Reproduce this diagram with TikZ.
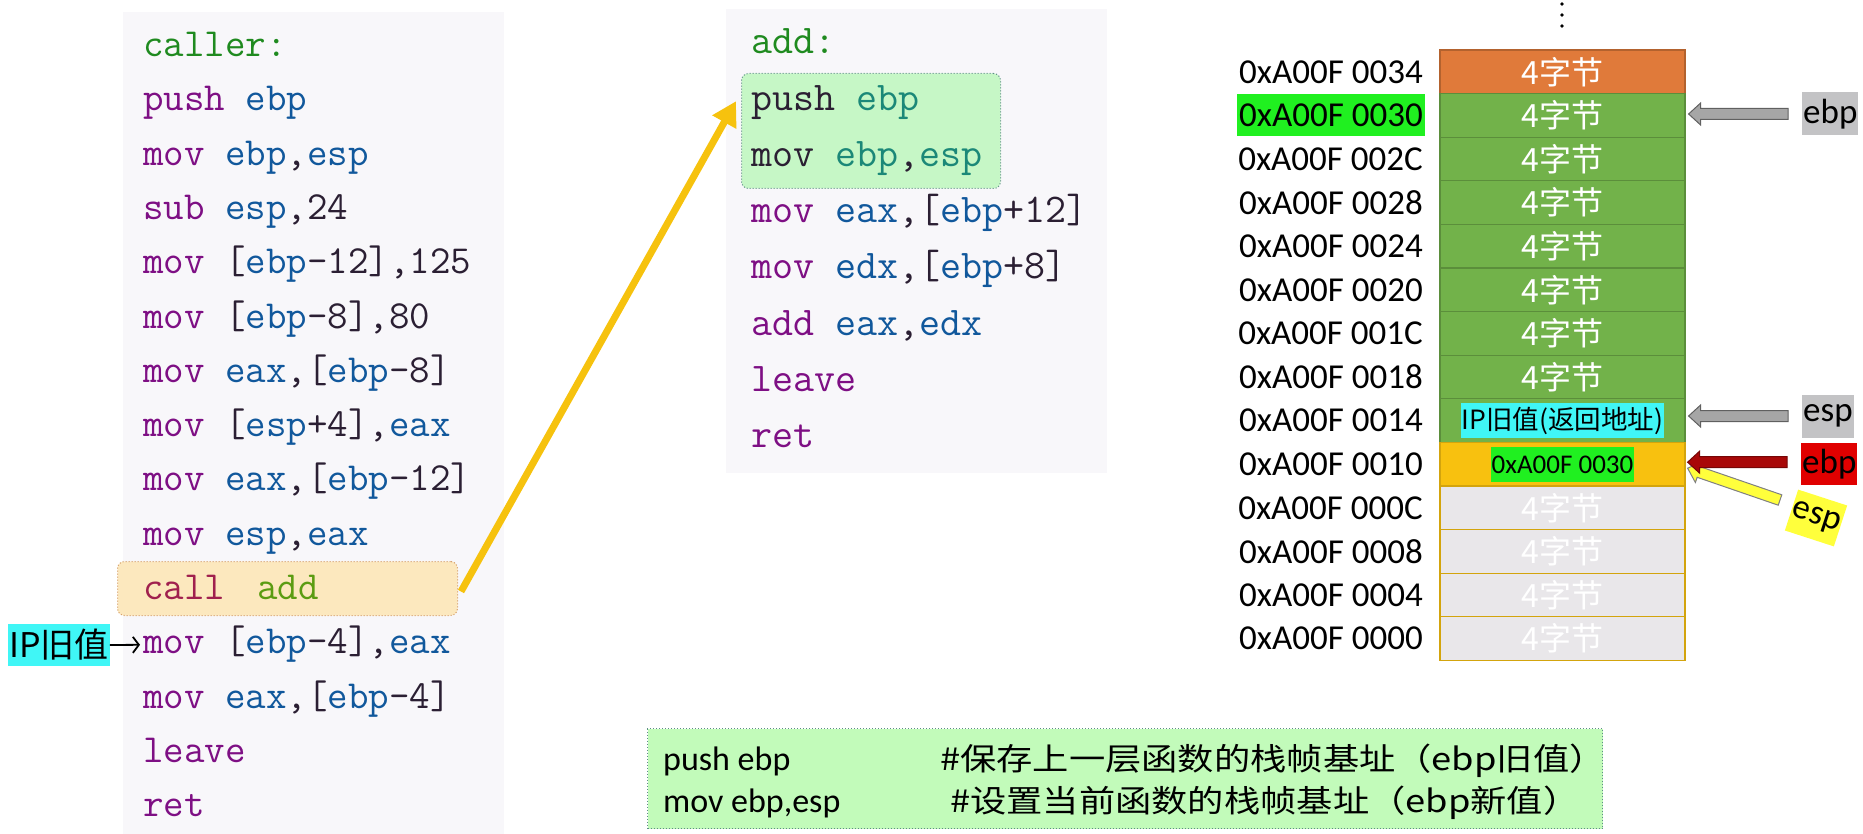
\documentclass[tikz,border=0pt]{standalone}
\usepackage{fontspec}
\usepackage{tikz}
\usepackage{xcolor}
\usetikzlibrary{arrows.meta,calc}
\setmainfont{Carlito}
\newfontfamily\cjk{Noto Sans CJK SC}
\newfontfamily\cjkwide[FakeStretch=1.17]{Noto Sans CJK SC}
\definecolor{panelgray}{HTML}{F8F7FA}
\definecolor{kwpurple}{HTML}{7E0F84}
\definecolor{regblue}{HTML}{11589C}
\definecolor{labgreen}{HTML}{1F8A1F}
\definecolor{callred}{HTML}{A0204E}
\definecolor{addgreen}{HTML}{5B9C12}
\definecolor{regteal}{HTML}{1B8878}
\definecolor{darkink}{HTML}{2B1F33}
\definecolor{callfill}{HTML}{FCE8BE}
\definecolor{callline}{HTML}{D39A62}
\definecolor{hlfill}{HTML}{C6F7C6}
\definecolor{hlline}{HTML}{5E8C86}
\definecolor{notefill}{HTML}{C2FBBA}
\definecolor{cellorange}{HTML}{E07A3A}
\definecolor{cellgreen}{HTML}{72B24A}
\definecolor{cellgold}{HTML}{F8C10F}
\definecolor{cellgray}{HTML}{E9E7EA}
\definecolor{ipcyan}{HTML}{40F6F6}
\definecolor{addrgreen}{HTML}{20F020}
\definecolor{callarrow}{HTML}{F6C20E}
\definecolor{ptrgray}{HTML}{A6A6A6}
\definecolor{labelgray}{HTML}{C3C3C5}
\definecolor{ptrred}{HTML}{A80808}
\definecolor{labelred}{HTML}{E00000}
\definecolor{ptryellow}{HTML}{FFFF3C}
\newcommand{\kw}[1]{\textcolor{kwpurple}{#1}}
\newcommand{\rg}[1]{\textcolor{regblue}{#1}}
\newcommand{\rgt}[1]{\textcolor{regteal}{#1}}
\newcommand{\retbox}{{\fboxsep=1pt\colorbox{ipcyan}{\rule[-8pt]{0pt}{33pt}\textcolor{black}{\fontsize{26.5}{30}\selectfont IP旧值(返回地址)}}}}
\newcommand{\savedbox}{{\fboxsep=1pt\colorbox{addrgreen}{\rule[-7pt]{0pt}{33pt}\textcolor{black}{\rmfamily\fontsize{27}{30}\selectfont 0xA00F 0030}}}}
\newcommand{\blockarrow}[3]{%
  \coordinate (bt) at #2;
  \coordinate (bh) at #3;
  \coordinate (bb) at ($(bh)!12pt!(bt)$);
  \draw[#1] ($(bt)!5.5pt!90:(bh)$) -- ($(bb)!5.5pt!90:(bh)$) -- ($(bb)!11pt!90:(bh)$)
    -- (bh) -- ($(bb)!11pt!-90:(bh)$) -- ($(bb)!5.5pt!-90:(bh)$) -- ($(bt)!5.5pt!-90:(bh)$) -- cycle;}

\begin{document}
\begin{tikzpicture}[x=1pt,y=-1pt,
  panel/.style={fill=panelgray,anchor=north west,inner sep=0pt},
  hlbox/.style={anchor=north west,inner sep=0pt,rounded corners=7pt,dotted,line width=1pt},
  codeline/.style={anchor=base west,inner sep=0pt,text=darkink},
  cell/.style={draw,line width=1.2pt,minimum width=245pt,minimum height=43.6pt,inner sep=0pt,text=white,font={\cjk\fontsize{32}{36}\selectfont}},
  orangecell/.style={fill=cellorange,draw=cellorange!80!black},
  greencell/.style={fill=cellgreen,draw=cellgreen!80!black},
  goldcell/.style={fill=cellgold,draw=cellgold!85!black},
  graycell/.style={fill=cellgray,draw=cellgold!85!black},
  addr/.style={anchor=east,inner xsep=2pt,inner ysep=0pt,minimum height=42pt,font={\fontsize{35}{40}\selectfont}},
  addrhl/.style={fill=addrgreen},
  addrplain/.style={},
  ptrlabel/.style={inner xsep=1pt,inner ysep=0pt,minimum height=43pt,font={\fontsize{35}{40}\selectfont}},
  ptrarrow/.style={line width=1pt},
  notetext/.style={anchor=base west,inner sep=0pt,font={\fontsize{34}{40}\selectfont}},
  notecjk/.style={anchor=base west,inner sep=0pt,font={\cjkwide\fontsize{31}{36}\selectfont}}
]
\useasboundingbox (0,0) rectangle (1863,834);

\node[panel,minimum width=381pt,minimum height=822pt] (callerpanel) at (123,12) {};
\node[panel,minimum width=381pt,minimum height=464pt] (addpanel) at (726,9) {};
\node[hlbox,fill=callfill,draw=callline,minimum width=340pt,minimum height=54pt] (callbox) at (117,561) {};
\node[hlbox,fill=hlfill,draw=hlline,minimum width=259pt,minimum height=115pt] (pushbox) at (741,73) {};

\foreach \txt [count=\i from 0] in {
  {\textcolor{labgreen}{caller:}},
  {\kw{push} \rg{ebp}},
  {\kw{mov} \rg{ebp},\rg{esp}},
  {\kw{sub} \rg{esp},24},
  {\kw{mov} [\rg{ebp}-12],125},
  {\kw{mov} [\rg{ebp}-8],80},
  {\kw{mov} \rg{eax},[\rg{ebp}-8]},
  {\kw{mov} [\rg{esp}+4],\rg{eax}},
  {\kw{mov} \rg{eax},[\rg{ebp}-12]},
  {\kw{mov} \rg{esp},\rg{eax}},
  {\textcolor{callred}{call}\hspace{32pt}\textcolor{addgreen}{add}},
  {\kw{mov} [\rg{ebp}-4],\rg{eax}},
  {\kw{mov} \rg{eax},[\rg{ebp}-4]},
  {\kw{leave}},
  {\kw{ret}}}
  \node[codeline,font={\ttfamily\fontsize{39.8}{44}\selectfont}] (c\i) at (143,{56.5+54.3*\i}) {\txt};

\foreach \txt [count=\i from 0] in {
  {\textcolor{labgreen}{add:}},
  {push \rgt{ebp}},
  {mov \rgt{ebp},\rgt{esp}},
  {\kw{mov} \rg{eax},[\rg{ebp}+12]},
  {\kw{mov} \rg{edx},[\rg{ebp}+8]},
  {\kw{add} \rg{eax},\rg{edx}},
  {\kw{leave}},
  {\kw{ret}}}
  \node[codeline,font={\ttfamily\fontsize{40.8}{44}\selectfont}] (a\i) at (751,{54+56.2*\i}) {\txt};

\node[fill=ipcyan,anchor=west,inner xsep=1pt,inner ysep=0pt,minimum height=42pt,font={\cjk\fontsize{34}{40}\selectfont}] (ipold) at (8,645) {IP旧值};
\draw[-{Straight Barb[length=6pt,width=16pt]},line width=1.8pt] (ipold.east) -- ($(c11.base west)+(-3,-9)$);

\foreach \y in {4,15,26}
  \fill (1562,\y) circle (1.8pt);

\foreach \addr/\kind/\addrkind/\txt [count=\i from 0] in {
  0034/orangecell/addrplain/4字节, 0030/greencell/addrhl/4字节,
  002C/greencell/addrplain/4字节, 0028/greencell/addrplain/4字节,
  0024/greencell/addrplain/4字节, 0020/greencell/addrplain/4字节,
  001C/greencell/addrplain/4字节, 0018/greencell/addrplain/4字节,
  0014/greencell/addrplain/\retbox, 0010/goldcell/addrplain/\savedbox,
  000C/graycell/addrplain/4字节, 0008/graycell/addrplain/4字节,
  0004/graycell/addrplain/4字节, 0000/graycell/addrplain/4字节} {
  \node[cell,\kind] (r\i) at (1562.5,{71.8+43.6*\i}) {\txt};
  \node[addr,\addrkind] (m\i) at (1425,{71.8+43.6*\i}) {0xA00F \addr};
}

\node[ptrlabel,fill=labelgray,anchor=west] (ebpold) at (1802,114) {ebp};
\node[ptrlabel,fill=labelgray,anchor=west] (espold) at (1802,416) {esp};
\node[ptrlabel,fill=labelred,anchor=west,minimum height=42pt] (ebpnew) at (1801,464) {ebp};
\node[ptrlabel,fill=ptryellow,rotate=-18] (espnew) at (1816,518) {esp};

\blockarrow{ptrarrow,fill=ptrgray,draw=gray!75!black}{($(ebpold.west)+(-14,0)$)}{($(r1.east |- ebpold.west)+(3,0)$)}
\blockarrow{ptrarrow,fill=ptrgray,draw=gray!75!black}{($(espold.west)+(-14,0)$)}{($(r8.east |- espold.west)+(3,0)$)}
\blockarrow{ptrarrow,fill=ptryellow,draw=gray}{($(espnew.center)+(-36,-18)$)}{($(r9.east)+(2,4)$)}
\blockarrow{ptrarrow,fill=ptrred,draw=ptrred!70!black}{($(ebpnew.west)+(-14,-2)$)}{($(r9.east)+(2,-2)$)}

\draw[draw=callarrow,line width=7pt,-{Triangle[length=24pt,width=26pt]}] ($(callbox.east)+(3,3)$) -- ($(pushbox.west |- a1.base west)+(-5,-9)$);

\node[fill=notefill,draw=hlline,dotted,line width=1pt,anchor=north west,inner sep=0pt,minimum width=955pt,minimum height=100pt] (note) at (647,728) {};
\node[notetext] (n1) at (663,770) {push ebp};
\node[notecjk] (n1c) at (940,770) {\#保存上一层函数的栈帧基址（ebp旧值）};
\node[notetext] (n2) at (663,812) {mov ebp,esp};
\node[notecjk] (n2c) at (950,812) {\#设置当前函数的栈帧基址（ebp新值）};
\end{tikzpicture}
\end{document}
